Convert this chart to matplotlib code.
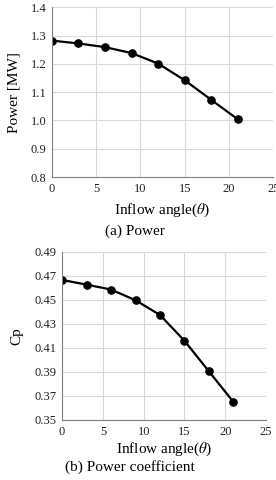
import numpy as np
import matplotlib
matplotlib.use("Agg")
import matplotlib.pyplot as plt

plt.rcParams['font.family'] = ['Liberation Serif', 'DejaVu Serif']
plt.rcParams['mathtext.fontset'] = 'stix'

angle = [0, 3, 6, 9, 12, 15, 18, 21]
power = [1.282, 1.272, 1.259, 1.238, 1.201, 1.142, 1.073, 1.004]
cp = [0.4667, 0.4628, 0.4587, 0.4498, 0.4375, 0.416, 0.3905, 0.365]

power_ticks = [0.8, 0.9, 1.0, 1.1, 1.2, 1.3, 1.4]
cp_ticks = [0.35, 0.37, 0.39, 0.41, 0.43, 0.45, 0.47, 0.49]
x_ticks = [0, 5, 10, 15, 20, 25]

fig = plt.figure(figsize=(2.76, 4.80), dpi=100)
ax1 = fig.add_axes([0.188, 0.631, 0.802, 0.354])
ax2 = fig.add_axes([0.225, 0.125, 0.739, 0.350])

def style(ax, yticks, fmt, xpad):
    ax.set_xlim(0, 25)
    ax.set_ylim(yticks[0], yticks[-1])
    ax.set_xticks(x_ticks)
    ax.set_yticks(yticks)
    ax.set_yticklabels([fmt.format(v) for v in yticks])
    ax.grid(True, color='#d9d9d9', linewidth=0.8)
    ax.set_axisbelow(True)
    for s in ['top', 'right']:
        ax.spines[s].set_visible(False)
    for s in ['left', 'bottom']:
        ax.spines[s].set_color('#808080')
        ax.spines[s].set_linewidth(0.8)
    ax.tick_params(length=0, labelsize=9, pad=4, colors='#222222')
    ax.set_xlabel(r'Inflow angle($\theta$)', fontsize=11, labelpad=xpad)

ax1.plot(angle, power, color='black', lw=1.6, marker='o', ms=5.2)
style(ax1, power_ticks, '{:.1f}', 5)
ax1.set_ylabel('Power [MW]', fontsize=11, labelpad=7)
fig.text(0.49, 0.519, '(a) Power', ha='center', va='center', fontsize=11)

ax2.plot(angle, cp, color='black', lw=1.6, marker='o', ms=5.2)
style(ax2, cp_ticks, '{:.2f}', 2)
ax2.set_ylabel('Cp', fontsize=11, labelpad=8)
fig.text(0.47, 0.027, '(b) Power coefficient', ha='center', va='center', fontsize=11)

fig.savefig('out.png', dpi=100)
